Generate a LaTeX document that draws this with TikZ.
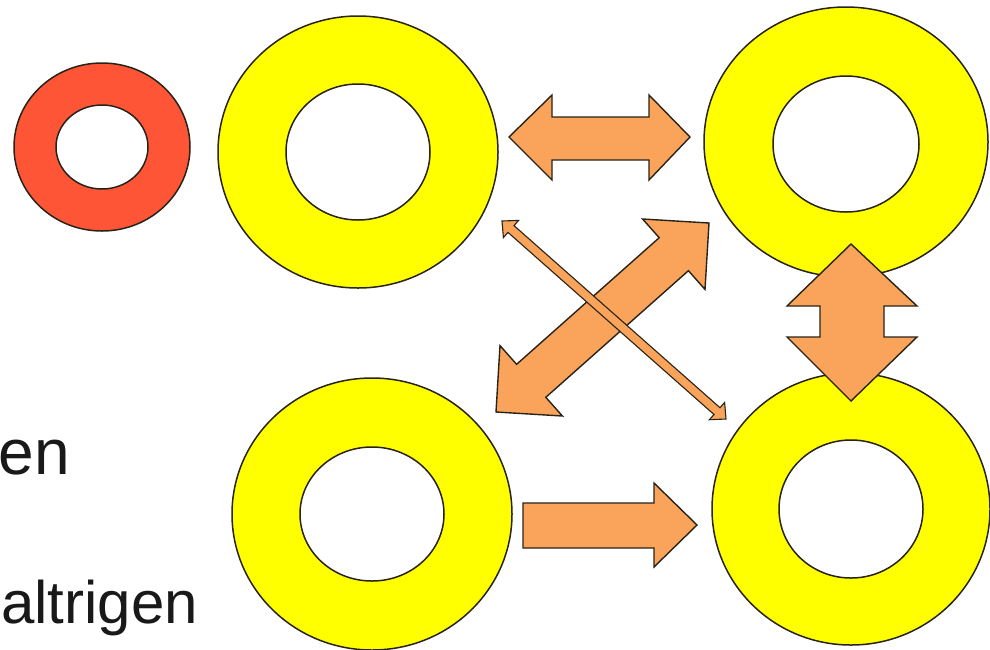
\documentclass[tikz,border=0pt]{standalone}
\usepackage{fontspec}
\setmainfont{Liberation Sans}
\definecolor{ringyellow}{RGB}{255,255,0}
\definecolor{ringred}{RGB}{255,85,55}
\definecolor{arroworange}{RGB}{250,163,90}
\definecolor{edgegray}{RGB}{40,35,25}
\begin{document}
\begin{tikzpicture}[x=1pt,y=-1pt,line cap=round,line join=miter,
  ring/.style={draw=edgegray,line width=1.5pt,even odd rule},
  blockarrow/.style={draw=edgegray,line width=1.4pt,fill=arroworange},
  label/.style={inner sep=0pt,anchor=base east,text=black!90}]
  \path[use as bounding box,fill=white] (0,0) rectangle (990,649);
  \coordinate (R) at (102,147);
  \coordinate (TL) at (358,152);
  \coordinate (TR) at (846,142);
  \coordinate (BL) at (372,514);
  \coordinate (BR) at (851,509);
  \draw[ring,fill=ringred] (R) ellipse (88 and 84) (R) ellipse (46 and 42);
  \draw[ring,fill=ringyellow] (TL) ellipse (140 and 136) (TL) ellipse (72 and 68);
  \draw[ring,fill=ringyellow] (TR) ellipse (142 and 135) (846,144) ellipse (73 and 68);
  \draw[ring,fill=ringyellow] (BL) ellipse (140 and 136) (BL) ellipse (72 and 67);
  \draw[ring,fill=ringyellow] (BR) ellipse (139 and 136) (BR) ellipse (72 and 69);
  \draw[blockarrow] (509,137) -- (552,95) -- (552,117) -- (649,117) -- (649,95) -- (690,137)
    -- (649,180) -- (649,160) -- (552,160) -- (552,180) -- cycle;
  \draw[blockarrow] (851,244) -- (917,306) -- (884,306) -- (884,337) -- (917,337) -- (851,401)
    -- (787,337) -- (820,337) -- (820,306) -- (787,306) -- cycle;
  \draw[blockarrow] (523,503) -- (654,503) -- (654,483) -- (697,525) -- (654,567) -- (654,548)
    -- (523,548) -- cycle;
  \draw[blockarrow] (709,223) -- (642.6,219) -- (659.2,237.7) -- (516.6,364.3) -- (500,345.6)
    -- (496,412) -- (562.4,416) -- (545.8,397.3) -- (688.4,270.7) -- (705,289.4) -- cycle;
  \draw[blockarrow,line width=1.1pt] (502,221) -- (518.6,220.4) -- (514,225.6) -- (720,407.7)
    -- (724.6,402.5) -- (726,419) -- (709.4,419.7) -- (714,414.5) -- (508,232.4)
    -- (503.4,237.6) -- cycle;
  \node[label,font=\fontsize{64}{76}\selectfont] (en) at (70,474) {en};
  \node[label,font=\fontsize{60}{72}\selectfont] (altrigen) at (198,623) {altrigen};
\end{tikzpicture}
\end{document}
